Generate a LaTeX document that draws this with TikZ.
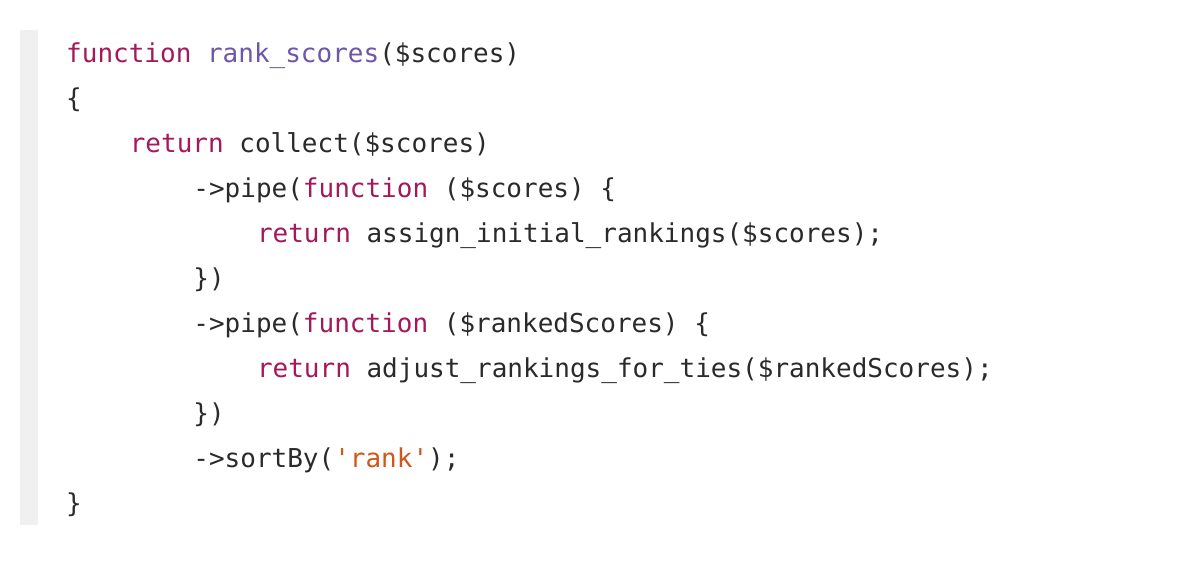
\documentclass[tikz,border=0pt]{standalone}
\usepackage{fontspec}
\setmonofont{DejaVu Sans Mono}
\definecolor{kw}{HTML}{A3195B}
\definecolor{fn}{HTML}{6E56A8}
\definecolor{st}{HTML}{D1561C}
\definecolor{tx}{HTML}{2A2A2A}
\definecolor{bar}{HTML}{F0F0F0}
\tikzset{ln/.style={anchor=base west,inner sep=0pt,text=tx,font=\ttfamily\fontsize{26}{26}\selectfont}}
\newcommand{\K}[1]{\textcolor{kw}{#1}}
\begin{document}
\begin{tikzpicture}[x=1pt,y=-1pt]
\useasboundingbox[fill=white] (0,0) rectangle (1200,560);
\fill[bar] (20,30) rectangle (38,525);
\def\cw{15.9}
\node[ln] (l1) at (66,62) {\K{function} \textcolor{fn}{rank\_scores}(\$scores)};
\node[ln] (l2) at (66,107) {\{};
\node[ln] (l3) at (66+4*\cw,152) {\K{return} collect(\$scores)};
\node[ln] (l4) at (66+8*\cw,197) {->pipe(\K{function} (\$scores) \{};
\node[ln] (l5) at (66+12*\cw,242) {\K{return} assign\_initial\_rankings(\$scores);};
\node[ln] (l6) at (66+8*\cw,287) {\})};
\node[ln] (l7) at (66+8*\cw,332) {->pipe(\K{function} (\$rankedScores) \{};
\node[ln] (l8) at (66+12*\cw,377) {\K{return} adjust\_rankings\_for\_ties(\$rankedScores);};
\node[ln] (l9) at (66+8*\cw,422) {\})};
\node[ln] (l10) at (66+8*\cw,467) {->sortBy(\textcolor{st}{'rank'});};
\node[ln] (l11) at (66,512) {\}};
\end{tikzpicture}
\end{document}
